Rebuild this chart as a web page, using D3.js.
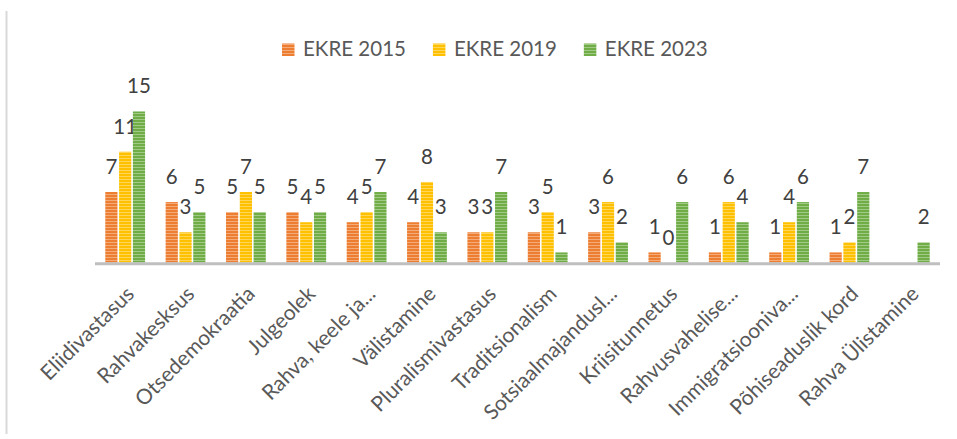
<!DOCTYPE html>
<html>
<head>
<meta charset="utf-8">
<script src="https://cdn.jsdelivr.net/npm/d3@7"></script>
<style>
  html, body { margin: 0; padding: 0; background: #ffffff; }
  svg { display: block; }
  text { font-family: Lato, "Open Sans", sans-serif; }
</style>
</head>
<body>
<svg id="chart" width="957" height="439"></svg>
<script>
const categories = [
  "Eliidivastasus", "Rahvakesksus", "Otsedemokraatia", "Julgeolek",
  "Rahva, keele ja...", "Välistamine", "Pluralismivastasus", "Traditsionalism",
  "Sotsiaalmajandusl...", "Kriisitunnetus", "Rahvusvahelise...",
  "Immigratsiooniva...", "Põhiseaduslik kord", "Rahva Ülistamine"
];
const seriesNames = ["EKRE 2015", "EKRE 2019", "EKRE 2023"];
const ekre2015 = [7, 6, 5, 5, 4, 4, 3, 3, 3, 1, 1, 1, 1, null];
const ekre2019 = [11, 3, 7, 4, 5, 8, 3, 5, 6, 0, 6, 4, 2, null];
const ekre2023 = [15, 5, 5, 5, 7, 3, 7, 1, 2, 6, 4, 6, 7, 2];
const seriesColors = ["#ED7D31", "#FFC000", "#70AD47"];

const allSeries = [ekre2015, ekre2019, ekre2023];

const svg = d3.select("#chart");

// border line on left
svg.append("line")
  .attr("x1", 6.5).attr("x2", 6.5).attr("y1", 11).attr("y2", 434)
  .attr("stroke", "#d9d9d9").attr("stroke-width", 2);

// patterns
const defs = svg.append("defs");
seriesColors.forEach((c, i) => {
  const p = defs.append("pattern")
    .attr("id", "pat" + i)
    .attr("patternUnits", "userSpaceOnUse")
    .attr("width", 6).attr("height", 3);
  p.append("rect").attr("width", 6).attr("height", 3).attr("fill", c);
  p.append("rect").attr("y", 2).attr("width", 6).attr("height", 1)
    .attr("fill", d3.interpolateRgb(c, "#ffffff")(0.35));
});

const x0 = d3.scaleBand()
  .domain(categories)
  .range([95, 940])
  .paddingInner(0.314)
  .paddingOuter(0.157);

const x1 = d3.scaleBand()
  .domain(seriesNames)
  .range([0, x0.bandwidth()])
  .padding(0);

const y = d3.scaleLinear().domain([0, 16]).range([262.5, 101.4]);

// bars
const groups = svg.append("g").selectAll("g")
  .data(categories)
  .join("g")
  .attr("transform", d => `translate(${x0(d)},0)`);

groups.each(function(cat, ci) {
  const g = d3.select(this);
  seriesNames.forEach((s, si) => {
    const v = allSeries[si][ci];
    if (v === null) return;
    if (v > 0) {
      g.append("rect")
        .attr("x", x1(s) + 0.8)
        .attr("width", x1.bandwidth() - 1.6)
        .attr("y", y(v))
        .attr("height", y(0) - y(v))
        .attr("fill", `url(#pat${si})`);
    }
    g.append("text")
      .attr("x", x1(s) + x1.bandwidth() / 2)
      .attr("y", y(v) - 18)
      .attr("text-anchor", "middle")
      .attr("font-size", 20.5)
      .attr("fill", "#404040")
      .text(v);
  });
});

// axis line
svg.append("line")
  .attr("x1", 95).attr("x2", 940)
  .attr("y1", 263.8).attr("y2", 263.8)
  .attr("stroke", "#bfbfbf").attr("stroke-width", 3);

// category labels via axis
const xAxis = d3.axisBottom(x0).tickSize(0).tickPadding(0);
const axisG = svg.append("g").attr("transform", "translate(5,290)").call(xAxis);
axisG.select(".domain").remove();
axisG.selectAll(".tick text")
  .attr("font-family", "Lato, 'Open Sans', sans-serif")
  .attr("font-size", 21)
  .attr("fill", "#595959")
  .attr("text-anchor", "end")
  .attr("dy", "0.35em")
  .attr("y", 0)
  .attr("transform", "rotate(-45)");

// legend
const legend = svg.append("g");
let lx = 282;
seriesNames.forEach((s, i) => {
  const item = legend.append("g").attr("transform", `translate(${lx},0)`);
  item.append("rect")
    .attr("x", 0).attr("y", 43.5).attr("width", 12.5).attr("height", 12.5)
    .attr("fill", `url(#pat${i})`);
  const t = item.append("text")
    .attr("x", 21).attr("y", 56)
    .attr("font-size", 20.5)
    .attr("fill", "#595959")
    .text(s);
  const w = t.node().getComputedTextLength();
  lx += 21 + w + 27;
});
</script>
</body>
</html>
